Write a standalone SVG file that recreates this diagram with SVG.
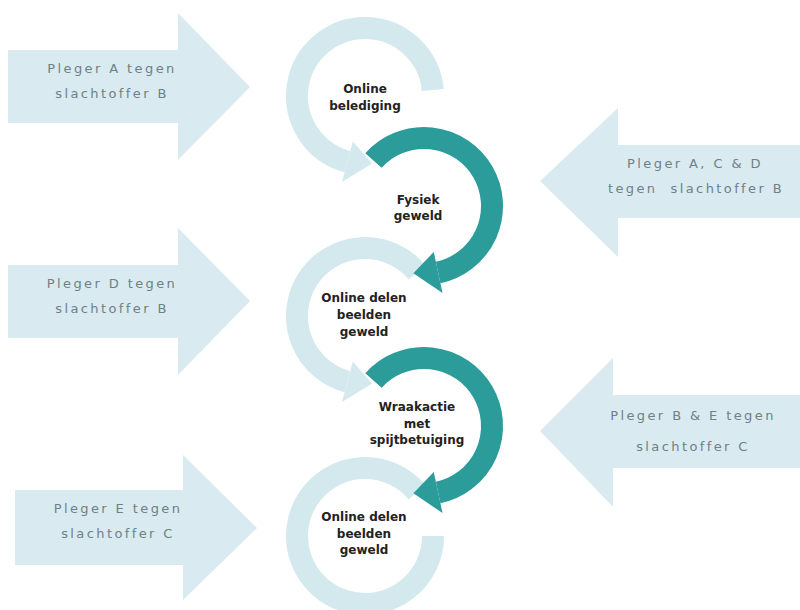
<svg xmlns="http://www.w3.org/2000/svg" width="800" height="610" viewBox="0 0 800 610">
<style>
.big{fill:#d9ebf0}
.bt{font-family:"DejaVu Sans","Liberation Sans",sans-serif;font-size:13px;letter-spacing:2.4px;fill:#6f8087;text-anchor:middle}
.lt{fill:none;stroke:#d4e9ee;stroke-width:22}
.lh{fill:#d4e9ee}
.dk{fill:none;stroke:#2b9c9a;stroke-width:22}
.dh{fill:#2b9c9a}
.ct{font-family:"DejaVu Sans","Liberation Sans",sans-serif;font-size:12px;font-weight:bold;fill:#222;text-anchor:middle}
</style>
<rect width="800" height="610" fill="#ffffff"/>

<g id="arrow-pleger-a">
<polygon class="big" points="8,50 178,50 178,13 250,87 178,160 178,123 8,123"/>
<text class="bt" x="112" y="73">Pleger A tegen</text>
<text class="bt" x="112" y="98">slachtoffer B</text>
</g>
<g id="arrow-pleger-acd">
<polygon class="big" points="800,145 618,145 618,108 540,181 618,257 618,218 800,218"/>
<text class="bt" x="695" y="168">Pleger A, C &amp; D</text>
<text class="bt" x="696" y="193" xml:space="preserve">tegen  slachtoffer B</text>
</g>
<g id="arrow-pleger-d">
<polygon class="big" points="8,265 178,265 178,228 250,301 178,375 178,338 8,338"/>
<text class="bt" x="112" y="288">Pleger D tegen</text>
<text class="bt" x="112" y="313">slachtoffer B</text>
</g>
<g id="arrow-pleger-be">
<polygon class="big" points="800,395 613,395 613,358 540,431 613,507 613,468 800,468"/>
<text class="bt" x="693" y="420">Pleger B &amp; E tegen</text>
<text class="bt" x="693" y="451">slachtoffer C</text>
</g>
<g id="arrow-pleger-e">
<polygon class="big" points="15,490 183,490 183,455 257,528 183,600 183,565 15,565"/>
<text class="bt" x="118" y="513">Pleger E tegen</text>
<text class="bt" x="118" y="538">slachtoffer C</text>
</g>

<g id="connectors">
<path class="lt" d="M 432.74 90.07 A 68 68 0 1 0 347.4 161.68"/>
<polygon class="lh" points="352.84,141.40 341.97,181.97 372.1,163.6"/>
<path class="lt" d="M 417.09 272.29 A 68 68 0 1 0 347.4 381.68"/>
<polygon class="lh" points="352.84,361.40 341.97,401.97 372.1,383.6"/>
<path class="lt" d="M 433 536 A 68 68 0 1 1 417.09 492.29"/>
<path class="dk" d="M 373.47 160.50 A 68 68 0 1 1 438.14 272.51"/>
<polygon class="dh" points="433.77,251.97 442.50,293.06 413.36,273.16"/>
<path class="dk" d="M 373.47 380.50 A 68 68 0 1 1 438.14 492.51"/>
<polygon class="dh" points="433.77,471.97 442.50,513.06 413.36,493.16"/>
</g>

<g id="step-online-belediging">
<text class="ct" x="365" y="93">Online</text>
<text class="ct" x="365" y="110">belediging</text>
</g>
<g id="step-fysiek-geweld">
<text class="ct" x="418" y="204">Fysiek</text>
<text class="ct" x="418" y="220">geweld</text>
</g>
<g id="step-online-delen-1">
<text class="ct" x="364" y="302">Online delen</text>
<text class="ct" x="364" y="319">beelden</text>
<text class="ct" x="364" y="336">geweld</text>
</g>
<g id="step-wraakactie">
<text class="ct" x="417" y="411">Wraakactie</text>
<text class="ct" x="417" y="428">met</text>
<text class="ct" x="417" y="444">spijtbetuiging</text>
</g>
<g id="step-online-delen-2">
<text class="ct" x="364" y="521">Online delen</text>
<text class="ct" x="364" y="538">beelden</text>
<text class="ct" x="364" y="554">geweld</text>
</g>
</svg>
